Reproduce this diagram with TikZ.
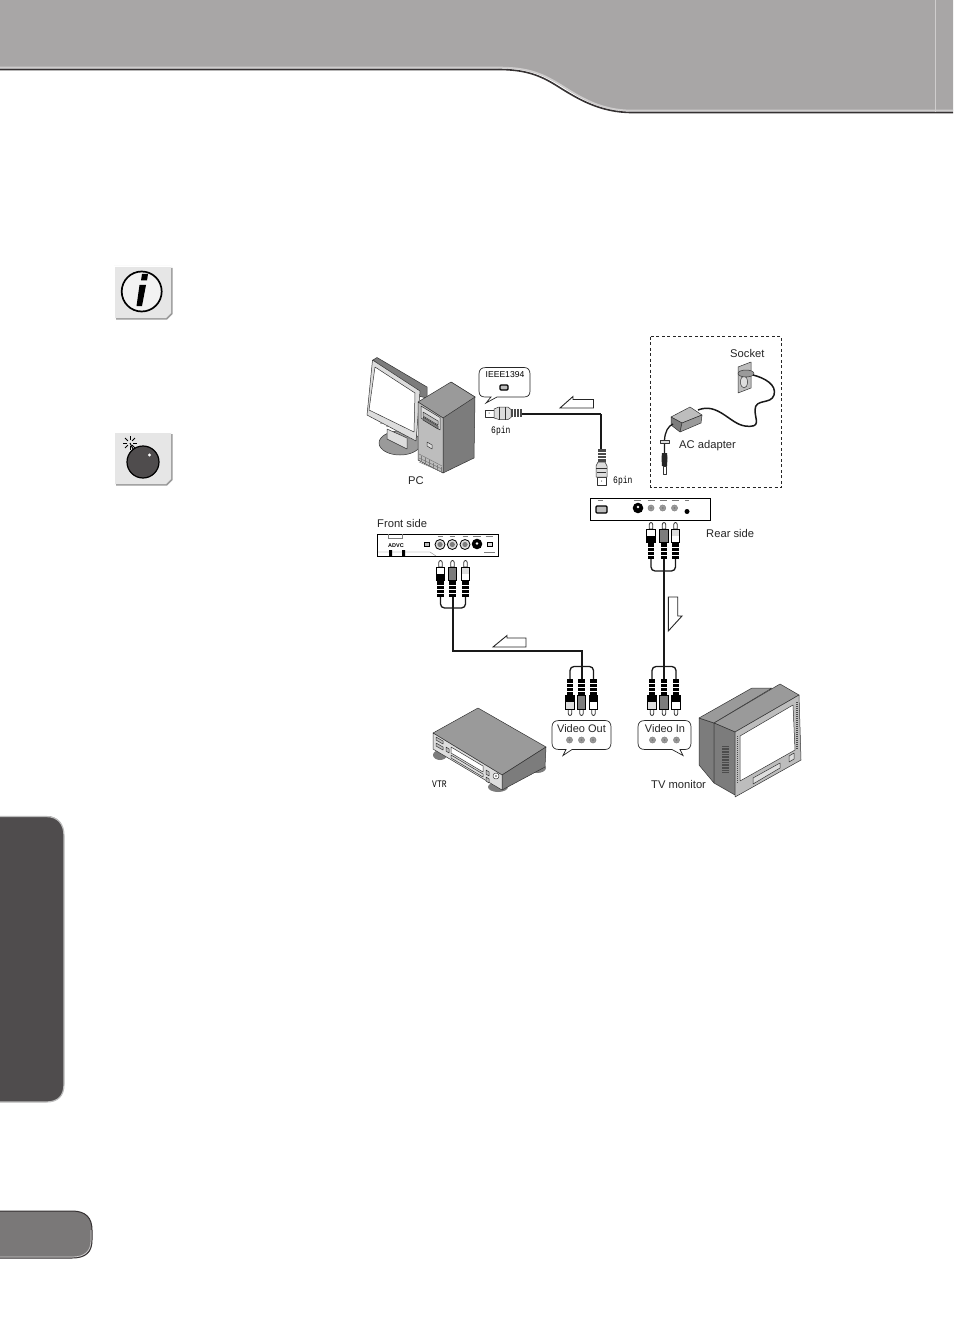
\documentclass[tikz,border=0pt]{standalone}
\usetikzlibrary{calc}
\usepackage{fontspec}
\setmainfont{Liberation Sans}
\newfontfamily\cond[FakeStretch=.8]{Liberation Mono}
\definecolor{hdr}{HTML}{A8A6A6}
\definecolor{hdrl}{HTML}{CFCDCD}
\definecolor{dk}{HTML}{353132}
\definecolor{tab}{HTML}{4F4C4D}
\definecolor{ptab}{HTML}{7A7878}
\definecolor{ic}{HTML}{E6E6E6}
\definecolor{g1}{HTML}{9A9A9A}
\definecolor{g2}{HTML}{BDBDBD}
\definecolor{g3}{HTML}{7C7C7C}
\definecolor{g4}{HTML}{DDDDDD}
\tikzset{
 x=1pt,y=-1pt,
 lab/.style={font=\fontsize{11.2}{13}\selectfont,inner sep=0pt,anchor=west,text=black!85},
 pin/.style={font=\cond\fontsize{10}{11}\selectfont,inner sep=0pt,anchor=west},
 cable/.style={draw=black!90,line width=2pt},
 thin cable/.style={draw=black!90,line width=1.3pt},
 flow/.style={draw=black!85,fill=white,line width=.9pt},
 bub/.style={draw=black!85,fill=white,line width=.7pt},
 devbox/.style={draw=black,fill=white,line width=1pt},
 part/.style={draw=black!80,line width=.5pt,line join=round},
}
% #1,#2: joint of body and ribbing; #3 tip-side colour of the body; #4 cable-side colour
\newcommand{\rcaup}[4]{\begin{scope}[shift={(#1,#2)}]
 \draw[part,line width=.8pt,fill=white] (-1.7,-14)--(-1.7,-18.5) arc(-180:0:1.7 and 2)--(1.7,-14)--cycle;
 \fill[black] (-4.6,-14.5) rectangle (4.6,0);
 \fill[#3] (-3.6,-13.5) rectangle (3.6,-7);
 \fill[#4] (-3.6,-7) rectangle (3.6,-1);
 \fill[black] (-3.2,0) rectangle (3.2,16);
 \foreach \q in {4,8,12}{\draw[white,line width=1pt] (-3.2,\q)--(3.2,\q);}
 \end{scope}}
\newcommand{\rcadn}[4]{\begin{scope}[shift={(#1,#2)}]
 \draw[part,line width=.8pt,fill=white] (-1.7,14)--(-1.7,18.5) arc(-180:0:1.7 and -2)--(1.7,14)--cycle;
 \fill[black] (-4.6,14.5) rectangle (4.6,0);
 \fill[#3] (-3.6,13.5) rectangle (3.6,7);
 \fill[#4] (-3.6,7) rectangle (3.6,1);
 \fill[black] (-3.2,0) rectangle (3.2,-16);
 \foreach \q in {4,8,12}{\draw[white,line width=1pt] (-3.2,-\q)--(3.2,-\q);}
 \end{scope}}
\newcommand{\jack}[2]{\fill[g1,draw=g3,line width=.4pt] (#1,#2) circle (3.1pt);\fill[g3] (#1,#2) circle (1.1pt);}
\begin{document}
\begin{tikzpicture}
\useasboundingbox (0,0) rectangle (953,1337);
\fill[white] (0,0) rectangle (953,1337);
% header band
\fill[hdr] (0,0)--(953,0)--(953,111)--(632,111) .. controls (600,111) and (580,98) .. (560,85) .. controls (540,73) and (525,68) .. (498,68)--(0,68)--cycle;
\draw[hdrl,line width=1.6pt] (0,67.5)--(498,67.5) .. controls (525,67.5) and (540,72) .. (560,84.5) .. controls (580,97) and (600,110.5) .. (632,110.5)--(953,110.5);
\draw[dk,line width=1.6pt] (0,69.5)--(498,69.5) .. controls (525,69.5) and (540,75) .. (558,86.5) .. controls (578,99) and (600,112.5) .. (632,112.5)--(953,112.5);
\draw[hdrl,line width=.7pt] (935,0)--(935,112);
% side tab
\fill[tab] (0,816) -- (46,816) .. controls (58,816) and (64,824) .. (64,836) -- (64,1084) .. controls (64,1096) and (58,1102) .. (46,1102) -- (0,1102) -- cycle;
\draw[g2,line width=1.2pt] (0,816.5) -- (46,816.5) .. controls (58,816.5) and (64,824) .. (64,836) -- (64,1084) .. controls (64,1096) and (58,1102) .. (46,1102) -- (0,1102);
% page tab
\fill[ptab] (0,1211) -- (72,1211) .. controls (86,1211) and (92,1218) .. (92,1230) -- (92,1240) .. controls (92,1252) and (86,1258) .. (72,1258) -- (0,1258) -- cycle;
\draw[dk,line width=1pt] (0,1211) -- (72,1211) .. controls (86,1211) and (92,1218) .. (92,1230) -- (92,1240) .. controls (92,1252) and (86,1258) .. (72,1258) -- (0,1258);
\draw[hdrl,line width=.7pt] (0,1257) -- (72,1257) .. controls (85,1257) and (91,1251) .. (91,1240) -- (91,1230);
% info icon
\fill[g1] (116,268)--(172.5,268)--(172.5,314)--(167,319.5)--(116,319.5)--cycle;
\fill[ic] (114,266)--(171,266)--(171,313)--(166,318)--(114,318)--cycle;
\draw[white,line width=.5pt] (114,318)--(114,266)--(171,266);
\draw[black,fill=white!95!black,line width=1.7pt] (141.7,291.5) circle (20);
\fill[black] (139.5,285)--(146,285)--(142,306)--(136.5,306)--cycle;
\fill[black] (142,274)--(148,274)--(147,280.5)--(141,280.5)--cycle;
% bomb icon
\fill[g1] (116,434)--(172.5,434)--(172.5,480)--(167,485.5)--(116,485.5)--cycle;
\fill[ic] (114,432)--(171,432)--(171,479)--(166,484)--(114,484)--cycle;
\draw[white,line width=.5pt] (114,484)--(114,432)--(171,432);
\draw[black,fill=tab,line width=1.2pt] (143,462) circle (16);
\fill[white] (149.5,455) circle (1.6);
\draw[black,line width=1pt] (133,449)--(130,443);
\foreach \a in {0,45,...,315}{\draw[black,line width=1pt] ($(130,443)+(\a:3)$)--($(130,443)+(\a:7)$);}
%
% ---- PC ----
\begin{scope}
\draw[part,fill=g1] (400,443) ellipse (21 and 12);
\draw[part,fill=g4] (387,429)--(407,438)--(407,449)--(387,439)--cycle;
\draw[part,fill=g3] (373,360)--(377,357.5)--(427,387)--(427,398)--(418,396)--cycle;
\draw[part,fill=g4] (372.5,360)--(420,391)--(416,441)--(367,415)--cycle;
\draw[part,fill=white] (375,367)--(415,393)--(414,432)--(369,410)--cycle;
\foreach \p in {(381,423),(387,426),(396,431),(409,438)}{\fill[g3] \p circle (1);}
\draw[part,fill=g3] (451,382)--(475,397)--(474,458)--(443,473)--(443,418)--cycle;
\draw[part,fill=g1] (418,402)--(451,382)--(475,397)--(443,418)--cycle;
\draw[part,fill=g2] (418,402)--(443,418)--(443,473)--(418,460)--cycle;
\draw[part,fill=g4] (421,406)--(440,417.5)--(440,430)--(421,418)--cycle;
\draw[part,fill=g2] (423,412)--(438,421)--(438,425)--(423,416)--cycle;
\draw[part,fill=g3] (423,417)--(438,426)--(438,429)--(423,420)--cycle;
\draw[part,fill=g4] (427,442)--(432,445)--(432,449)--(427,446)--cycle;
\foreach \q in {0,1,2}{\draw[part,g3] (419,{454+\q*4})--(442,{466+\q*3});}
\foreach \q in {0,...,5}{\draw[part,g3] ({421+\q*4},{456+\q*2.2})--({421+\q*4},{462+\q*2.2});}
\end{scope}
\node[lab] (pc) at (408,481) {PC};
% ---- IEEE bubble ----
\draw[bub] (486,367.5)--(524,367.5) .. controls (528,367.5) and (530,370) .. (530,374)--(530,391) .. controls (530,395) and (528,397) .. (524,397)--(497,397)--(486,403)--(491,397)--(485,397) .. controls (481,397) and (479,395) .. (479,391)--(479,374) .. controls (479,370) and (481,367.5) .. (486,367.5)--cycle;
\node[font=\fontsize{8.6}{10}\selectfont,inner sep=0pt] (ieee) at (505,375) {IEEE1394};
\node[draw=black,fill=g2,line width=1.4pt,minimum width=8pt,minimum height=5pt,inner sep=0pt,rounded corners=1pt] (ieeep) at (504,387.5) {};
% ---- 6pin plugs ----
\coordinate (cA) at (522,414);
\coordinate (cC) at (601,414);
\coordinate (cB) at (601,450);
\draw[cable] (cA) -- (cC);
\draw[thin cable] (cC) -- (cB);
\draw[part,fill=white,line width=.8pt] (485.7,410) rectangle (494,417.7);
\fill[black] (489,413) circle (.5);
\draw[part,fill=g4] (494,409)--(499,407)--(508,407)--(511,409.5)--(511,417.5)--(508,419.5)--(499,419.5)--(494,418)--cycle;
\draw[part] (499,407)--(499,419.5) (505,407)--(505,419.5);
\fill[g3!60!black] (510.5,409) rectangle (522,417);
\foreach \q in {513,516,519}{\draw[white,line width=.5pt] (\q,409)--(\q,417);}
\draw[part,fill=white,line width=.8pt] (597,477) rectangle (606,485.5);
\fill[black] (601.5,481) circle (.5);
\draw[part,fill=g4] (596,477)--(596,466)--(598,462)--(605,462)--(607,466)--(607,477)--cycle;
\draw[part] (596,468)--(607,468) (597,472)--(606,472);
\fill[g3!60!black] (598,449) rectangle (605.5,462);
\foreach \q in {452,455,458}{\draw[white,line width=.5pt] (598,\q)--(605.5,\q);}
\node[pin] (pA) at (491,431) {6pin};
\node[pin] (pB) at (613,481) {6pin};
\draw[flow] (560,408)--(573,396.5)--(573,399.5)--(593.5,399.5)--(593.5,408)--cycle;
% ---- dashed box ----
\draw[black!85,line width=.8pt,dash pattern=on 3pt off 2.5pt] (650.5,336.5) rectangle (781.5,487.5);
\node[lab] (sock) at (730,353) {Socket};
\node[lab] (ac) at (679,445.5) {AC adapter};
\draw[part,fill=g2] (738,367)--(751,362)--(751,388)--(738,393)--cycle;
\draw[part,fill=g4] (744,382) ellipse (3.5 and 6);
\draw[part,fill=g1] (746,373.5) ellipse (8 and 3.5);
\draw[cable,line width=1.5pt] (753,375) .. controls (765,378) and (777,385) .. (774,395) .. controls (771,405) and (755,398) .. (755,410) .. controls (755,420) and (762,428) .. (745,426) .. controls (730,424) and (718,402) .. (698,410);
\draw[part,fill=g2] (671,417)--(690,407)--(702,415)--(682,423)--cycle;
\draw[part,fill=g3] (671,417)--(682,423)--(680,432)--(671,425)--cycle;
\draw[part,fill=g1] (682,423)--(702,415)--(701,423)--(680,432)--cycle;
\draw[cable,line width=1.3pt] (673,424) .. controls (668,426) and (665,432) .. (664.5,440) -- (664.5,453);
\draw[part,fill=g4] (660,440) rectangle (669,443);
\fill[black!85] (662,453)--(667,453)--(667.5,458)--(667,466)--(662,466)--(661.5,458)--cycle;
\draw[part,fill=white] (663,466) rectangle (666,474.5);
% ---- rear box ----
\node[devbox,minimum width=120pt,minimum height=22pt,inner sep=0pt] (rear) at (650.5,509.5) {};
\draw[black,fill=g2,line width=1.3pt,rounded corners=1pt] (596,506)rectangle(607,513);
\fill[black] (638,508) circle (5.3);\fill[white] (638,507) circle (1.4);
\foreach \q in {651,662.7,674.5}{\jack{\q}{508}}
\fill[black] (687,511.5) circle (2.5);
\foreach \q/\w in {600/5,637/7,651/7,663/7,675/7,687/4}{\draw[g3,line width=.7pt] ({\q-\w/2},500.5)--({\q+\w/2},500.5);}
\node[lab] (rs) at (706,533) {Rear side};
\draw[cable] (664,555) -- (664,681);
\draw[thin cable,rounded corners=4pt] (651,558)--(651,571)--(675.5,571)--(675.5,558);
\draw[thin cable,rounded corners=4pt] (652,681)--(652,666.5)--(676,666.5)--(676,681);
\rcaup{651}{543}{white}{black}
\rcaup{664}{543}{g3}{g3}
\rcaup{675.5}{543}{g4}{white}
\rcadn{652}{695}{g4}{black}
\rcadn{664}{695}{g3}{g3}
\rcadn{676}{695}{white}{black}
\draw[flow] (668.3,597)--(677.7,597)--(677.7,616)--(682,616)--(668.3,631)--cycle;
% ---- front box ----
\node[devbox,minimum width=121pt,minimum height=22pt,inner sep=0pt] (front) at (437.5,545) {};
\draw[g3,line width=.5pt] (388,534)--(388,538)--(402,538)--(402,534);
\node[font=\bfseries\fontsize{5.5}{6}\selectfont,inner sep=0pt] (advc) at (396,545.5) {ADVC};
\draw[g3,line width=.4pt] (378,552)--(430,552)--(436,556);
\fill[black] (389,550) rectangle (392,556.5) (402,550) rectangle (405,556.5);
\draw[black,fill=g2,line width=.6pt] (424,542.5) rectangle (429,546.5);
\foreach \q in {440,452.3,465}{\draw[black,line width=.8pt,fill=g4] (\q,544.5) circle (5);\fill[g3] (\q,544.5) circle (2.6);}
\fill[black] (477,544) circle (5.3);\fill[white] (477,543.5) circle (1.3);
\draw[black,fill=g4,line width=.6pt] (487,542) rectangle (492,546.5);
\foreach \q/\w in {440/5,452/5,465/5,477/8,489/7}{\draw[g3,line width=.7pt] ({\q-\w/2},536.5)--({\q+\w/2},536.5);}
\draw[g3,line width=.7pt] (484,552)--(495,552);
\node[lab] (fs) at (377,523.5) {Front side};
\draw[cable] (452.5,595) -- (452.5,650.5) -- (581.5,650.5) -- (581.5,681);
\draw[thin cable,rounded corners=4pt] (440.5,596)--(440.5,608)--(465.5,608)--(465.5,596);
\draw[thin cable,rounded corners=4pt] (570,681)--(570,666.5)--(593.5,666.5)--(593.5,681);
\rcaup{440.5}{581}{white}{black}
\rcaup{452.5}{581}{g3}{g3}
\rcaup{465.5}{581}{g4}{white}
\rcadn{570}{695}{g4}{black}
\rcadn{581.5}{695}{g3}{g3}
\rcadn{593.5}{695}{white}{black}
\draw[flow] (493,647)--(507,635.5)--(507,638)--(526,638)--(526,647)--cycle;
% ---- Video out bubble ----
\draw[bub] (559,720.5)--(605,720.5) .. controls (609,720.5) and (611,723) .. (611,727)--(611,743) .. controls (611,747) and (609,749.5) .. (605,749.5)--(572,749.5)--(563,755.5)--(566,749.5)--(559,749.5) .. controls (554,749.5) and (552,747) .. (552,743)--(552,727) .. controls (552,723) and (554,720.5) .. (559,720.5)--cycle;
\node[font=\fontsize{11}{13}\selectfont,inner sep=0pt,text=black!85] (vo) at (581.5,728.5) {Video Out};
\foreach \q in {569.5,581.5,593}{\jack{\q}{740}}
% ---- Video in bubble ----
\draw[bub] (645,720.5)--(685,720.5) .. controls (689,720.5) and (691,723) .. (691,727)--(691,743) .. controls (691,747) and (689,749.5) .. (685,749.5)--(680,749.5)--(683,755.5)--(672,749.5)--(645,749.5) .. controls (640,749.5) and (638,747) .. (638,743)--(638,727) .. controls (638,723) and (640,720.5) .. (645,720.5)--cycle;
\node[font=\fontsize{11}{13}\selectfont,inner sep=0pt,text=black!85] (vi) at (665,728.5) {Video In};
\foreach \q in {652.5,664.5,676.5}{\jack{\q}{740}}
% ---- VTR ----
\fill[g3] (440,755) ellipse (7 and 5);
\fill[g3] (498,787) ellipse (10 and 5);
\fill[g3] (537,768) ellipse (9 and 5);
\draw[part,fill=g1] (433,733)--(478,708)--(546,747)--(502,775)--cycle;
\draw[part,fill=g3] (502,775)--(546,747)--(545,767)--(502,790)--cycle;
\draw[part,fill=g4] (433,733)--(502,775)--(502,790)--(433,749)--cycle;
\draw[part,fill=white] (451,747)--(483,766)--(483,772)--(451,753)--cycle;
\draw[part,fill=g4] (451,755)--(483,774)--(483,777)--(451,758)--cycle;
\draw[part,fill=g2] (436,737)--(443,741)--(443,744)--(436,740)--cycle;
\draw[part,fill=g2] (436,743)--(443,747)--(443,750)--(436,746)--cycle;
\draw[part,fill=g2] (446,747)--(449,749)--(449,753)--(446,751)--cycle;
\draw[part,fill=g2] (486,770)--(489,772)--(489,776)--(486,774)--cycle;
\draw[part,fill=g2] (486,777)--(489,779)--(489,783)--(486,781)--cycle;
\draw[part,fill=white] (496,776) circle (3);
\fill[g3] (496,776) circle (1.2);
\node[pin] (vt) at (432,784) {VTR};
% ---- TV ----
\draw[part,fill=g3] (699,718)--(714,723)--(714,783)--(699,765)--cycle;
\draw[part,fill=g1] (699,718)--(752,688)--(772,688)--(714,723)--cycle;
\draw[part,fill=g1] (714,723)--(780,684)--(799,695)--(735,732)--cycle;
\draw[part,fill=g3] (714,723)--(735,732)--(735,795)--(714,783)--cycle;
\draw[part,fill=g2] (735,732)--(799,695)--(801,760)--(735,797)--cycle;
\draw[part,fill=white] (740,736)--(793,705)--(795,750)--(740,781)--cycle;
\draw[part,fill=g4] (753,778)--(780,763)--(780,768)--(753,784)--cycle;
\draw[part,fill=g4] (789,756)--(794,753)--(794,759)--(789,762)--cycle;
\draw[g3!60!black,line width=1.5pt,dash pattern=on 1pt off 1pt] (737.5,736)--(737.5,783);
\draw[g3!60!black,line width=1.5pt,dash pattern=on 1pt off 1pt] (797,702)--(797,750);
\draw[black!70,line width=7pt,dash pattern=on .8pt off .8pt] (725,746)--(725,772);
\node[lab] (tv) at (651,784) {TV monitor};
\end{tikzpicture}
\end{document}
